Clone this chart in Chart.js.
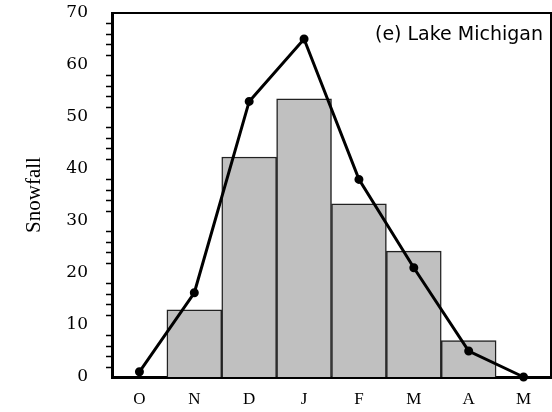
<!DOCTYPE html>
<html>
<head>
<meta charset="utf-8">
<script src="https://cdn.jsdelivr.net/npm/chart.js@4.4.1/dist/chart.umd.min.js"></script>
<style>
  html, body { margin: 0; padding: 0; background: #fff; }
  #wrap { width: 552px; height: 412px; position: relative; }
</style>
</head>
<body>
<div id="wrap"><canvas id="chart" width="552" height="412"></canvas></div>
<script>
// monthly snowfall, Oct..May
const months = ['O', 'N', 'D', 'J', 'F', 'M', 'A', 'M'];
const barValues = [0, 12.9, 42.3, 53.5, 33.3, 24.2, 7.0, 0];
const lineValues = [1, 16.2, 53, 65, 38, 21, 5, 0];
const yMajorTicks = [0, 10, 20, 30, 40, 50, 60, 70];

// frame + minor ticks on the y axis
const framePlugin = {
  id: 'frame',
  afterDraw(chart) {
    const { ctx, chartArea: a, scales } = chart;
    ctx.save();
    ctx.strokeStyle = '#000';
    ctx.lineWidth = 2;
    ctx.beginPath();
    ctx.moveTo(a.left, a.top);
    ctx.lineTo(a.right, a.top);
    ctx.lineTo(a.right, a.bottom);
    ctx.stroke();
    // minor ticks every 2 units
    ctx.lineWidth = 1.5;
    ctx.beginPath();
    for (let v = 0; v <= 70; v += 2) {
      if (v % 10 === 0) continue;
      const y = Math.round(scales.y.getPixelForValue(v)) + 0.5;
      ctx.moveTo(a.left - 6, y);
      ctx.lineTo(a.left, y);
    }
    ctx.stroke();
    ctx.restore();
  },
};

const ctx = document.getElementById('chart').getContext('2d');
new Chart(ctx, {
  data: {
    labels: months,
    datasets: [
      {
        type: 'line',
        data: lineValues,
        borderColor: '#000',
        backgroundColor: '#000',
        borderWidth: 3,
        pointRadius: 3,
        pointBackgroundColor: '#000',
        tension: 0,
        clip: false,
        order: 0,
      },
      {
        type: 'bar',
        data: barValues,
        backgroundColor: '#c0c0c0',
        borderColor: '#222',
        borderWidth: 1.5,
        barPercentage: 1,
        categoryPercentage: 1,
        order: 1,
      },
    ],
  },
  options: {
    responsive: false,
    animation: false,
    layout: { autoPadding: false, padding: { top: 13, right: 1, left: 0, bottom: 0 } },
    plugins: {
      legend: { display: false },
      tooltip: { enabled: false },
      title: { display: false },
    },
    scales: {
      x: {
        offset: true,
        grid: { display: false, drawTicks: true, tickLength: 6, tickColor: '#000', tickWidth: 2.5 },
        border: { display: true, color: '#000', width: 3 },
        ticks: {
          color: '#000',
          padding: 6,
          font: { family: 'Liberation Serif', size: 17 },
        },
        afterFit(scale) {
          scale.height = 35;
          scale.paddingLeft = 0;
          scale.paddingRight = 0;
        },
      },
      y: {
        min: 0,
        max: 70,
        afterBuildTicks(scale) {
          scale.ticks = yMajorTicks.map((v) => ({ value: v }));
        },
        grid: { display: false, drawTicks: true, tickLength: 12, tickColor: '#000', tickWidth: 2.5 },
        border: { display: true, color: '#000', width: 3 },
        ticks: {
          color: '#000',
          padding: 12,
          font: { family: 'DejaVu Serif', size: 17 },
        },
        title: {
          display: true,
          text: 'Snowfall',
          color: '#000',
          font: { family: 'Liberation Serif', size: 21 },
          padding: { top: 22, bottom: 0 },
        },
        afterFit(scale) {
          scale.width = 112;
          scale.paddingTop = 0;
          scale.paddingBottom = 0;
        },
      },
    },
  },
  plugins: [
    framePlugin,
    {
      id: 'panelLabel',
      afterDraw(chart) {
        const c = chart.ctx;
        c.save();
        c.fillStyle = '#000';
        c.font = '19px "DejaVu Sans"';
        c.textAlign = 'right';
        c.textBaseline = 'middle';
        c.fillText('(e) Lake Michigan', chart.chartArea.right - 8, 35);
        c.restore();
      },
    },
  ],
});
</script>
</body>
</html>
